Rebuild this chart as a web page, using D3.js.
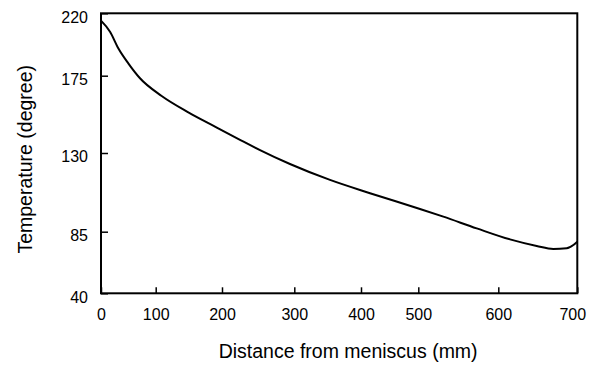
<!DOCTYPE html>
<html>
<head>
<meta charset="utf-8">
<script src="https://cdn.jsdelivr.net/npm/d3@7"></script>
<style>
  html, body { margin: 0; padding: 0; background: #fff; }
  svg { display: block; font-family: "Liberation Sans", Arial, sans-serif; }
</style>
</head>
<body>
<div id="chart"></div>
<script>
// Temperature profile along the strand
const distance = [0, 16.5, 31.6, 49.9, 71.3, 109, 149.2, 189.4, 224.9, 252.6, 294,
                  353.5, 415.7, 502.1, 531.3, 573, 614.8, 648.6, 669.6, 686.6, 695, 700];
const temperature = [214.7, 206.7, 194.8, 183.9, 173.5, 163.2, 153.7, 145.4, 137.7, 131.7, 123.7,
                     114.6, 107.0, 98.0, 93.6, 86.9, 79.4, 74.6, 72.4, 72.9, 75.3, 77.7];

const xTicks = [0, 100, 200, 300, 400, 500, 600, 700];
const yTicks = [40, 85, 130, 175, 220];

const width = 598;
const height = 365;

// the original axes are not evenly spaced, so the scales are piecewise linear
const xTickPos = [101, 155.7, 222, 294.3, 361, 418.3, 498.3, 577.3];
const yTickPos = [293.3, 231.7, 153, 75.7, 13.3];

const x = d3.scaleLinear().domain(xTicks).range(xTickPos);
const y = d3.scaleLinear().domain(yTicks).range(yTickPos);

const plotLeft = x(0), plotRight = x(700), plotTop = y(220), plotBottom = y(40);

const svg = d3.select("#chart")
    .append("svg")
    .attr("width", width)
    .attr("height", height)
    .attr("viewBox", `0 0 ${width} ${height}`);

const xAxis = svg.append("g")
    .attr("transform", `translate(0,${plotBottom})`)
    .call(d3.axisBottom(x).tickValues(xTicks).tickSizeInner(-6).tickSizeOuter(0).tickPadding(15));

const yAxis = svg.append("g")
    .attr("transform", `translate(${plotLeft},0)`)
    .call(d3.axisLeft(y).tickValues(yTicks).tickSizeInner(-7).tickSizeOuter(0).tickPadding(13));

[xAxis, yAxis].forEach(g => {
    g.select(".domain").remove();
    g.selectAll(".tick line").attr("stroke", "#000").attr("stroke-width", 1.5);
    g.selectAll(".tick text")
        .attr("fill", "#000")
        .style("font-size", "16px")
        .style("font-family", "'Liberation Sans', Arial, sans-serif");
});
yAxis.selectAll(".tick text").attr("dy", "0.55em");
xAxis.selectAll(".tick text").filter(d => d === 700).attr("dx", "-5");

// frame
svg.append("rect")
    .attr("x", plotLeft)
    .attr("y", plotTop)
    .attr("width", plotRight - plotLeft)
    .attr("height", plotBottom - plotTop)
    .attr("fill", "none")
    .attr("stroke", "#000")
    .attr("stroke-width", 2);

const line = d3.line()
    .x((d, i) => x(distance[i]))
    .y(d => y(d))
    .curve(d3.curveMonotoneX);

svg.append("path")
    .datum(temperature)
    .attr("fill", "none")
    .attr("stroke", "#000")
    .attr("stroke-width", 2)
    .attr("stroke-linejoin", "round")
    .attr("d", line);

svg.append("text")
    .attr("x", (plotLeft + plotRight) / 2 + 9)
    .attr("y", 358)
    .attr("text-anchor", "middle")
    .style("font-size", "19.5px")
    .text("Distance from meniscus (mm)");

svg.append("text")
    .attr("transform", `translate(32,${(plotTop + plotBottom) / 2 + 6}) rotate(-90)`)
    .attr("text-anchor", "middle")
    .style("font-size", "19.5px")
    .text("Temperature (degree)");
</script>
</body>
</html>
